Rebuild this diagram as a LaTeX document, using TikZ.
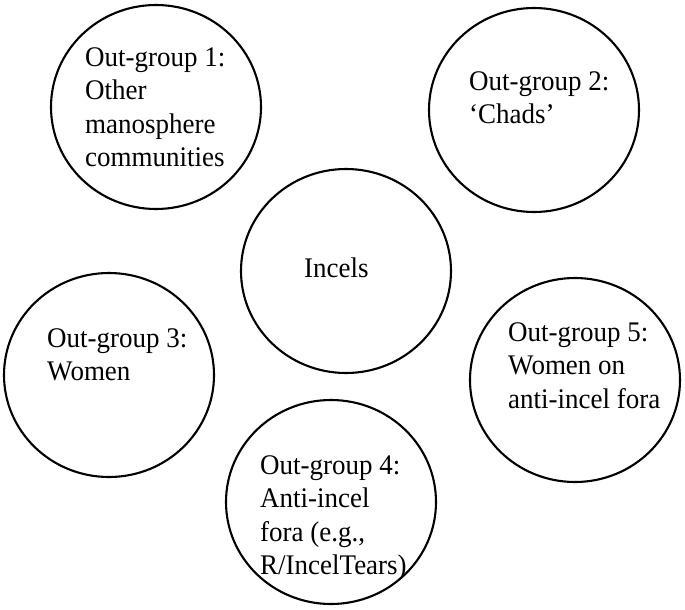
\documentclass[tikz,border=0pt]{standalone}
\usepackage{fontspec}
\setmainfont{Liberation Serif}[FakeStretch=0.95]
\usetikzlibrary{shapes.geometric}

\begin{document}
\begin{tikzpicture}[
        x=1pt,   % 1 unit = 1 px of the figure
        y=-1pt,  % y runs downwards
        group/.style={draw=black, line width=2.1pt, ellipse, inner sep=0pt,
            minimum width=210pt, minimum height=204pt},
        grouptext/.style={anchor=north west, align=left, inner sep=0pt,
            font=\fontsize{28.4}{33.5}\selectfont},
    ]
    \useasboundingbox (0,0) rectangle (685,610);

    % Circles
    \node[group] (og1) at (156,107) {};
    \node[group] (og2) at (534,110) {};
    \node[group] (incels) at (346,271) {};
    \node[group] (og3) at (109,375) {};
    \node[group] (og5) at (575,380) {};
    \node[group] (og4) at (331,502) {};

    % Texts
    \node[grouptext] (og1text) at (85,47.1) {Out-group 1:\\Other\\manosphere\\communities};
    \node[grouptext] (og2text) at (469,71.4) {Out-group 2:\\`Chads'};
    \node[grouptext] (incelstext) at (304,257.4) {Incels};
    \node[grouptext] (og3text) at (47,328.4) {Out-group 3:\\Women};
    \node[grouptext] (og5text) at (508,322.4) {Out-group 5:\\Women on\\anti-incel fora};
    \node[grouptext] (og4text) at (260,455.4) {Out-group 4:\\Anti-incel\\fora (e.g.,\\R/IncelTears)};

\end{tikzpicture}
\end{document}
